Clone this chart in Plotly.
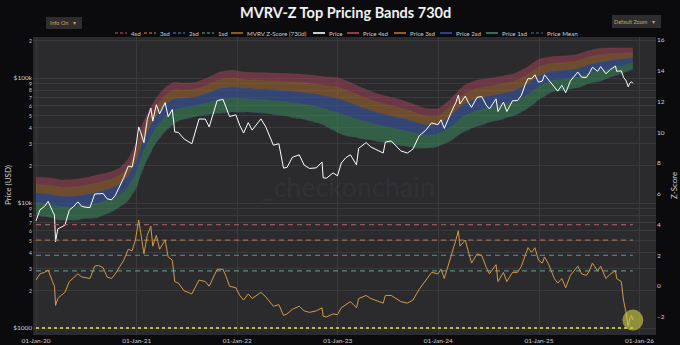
import plotly.graph_objects as go

# ---------------------------------------------------------------- data
price_dates = [
    "2020-01-01", "2020-01-15", "2020-02-01", "2020-02-14", "2020-03-01", "2020-03-08",
    "2020-03-12", "2020-03-20", "2020-04-01", "2020-04-15", "2020-05-01", "2020-05-15",
    "2020-06-01", "2020-06-15", "2020-07-01", "2020-07-15", "2020-08-01", "2020-08-15",
    "2020-09-01", "2020-09-15", "2020-10-01", "2020-10-15", "2020-11-01", "2020-11-15",
    "2020-12-01", "2020-12-15", "2020-12-27",
    "2021-01-08", "2021-01-15", "2021-01-27", "2021-02-08", "2021-02-21", "2021-02-28",
    "2021-03-13", "2021-03-25", "2021-04-14", "2021-04-25", "2021-05-10", "2021-05-19",
    "2021-06-01", "2021-06-22", "2021-07-20", "2021-08-15", "2021-09-07", "2021-09-21",
    "2021-10-20", "2021-11-10", "2021-11-20", "2021-12-04", "2021-12-27",
    "2022-01-10", "2022-01-24", "2022-02-10", "2022-02-24", "2022-03-28", "2022-04-15",
    "2022-05-12", "2022-06-01", "2022-06-18", "2022-07-01", "2022-07-20", "2022-08-14",
    "2022-09-01", "2022-09-20", "2022-10-15", "2022-11-05", "2022-11-09", "2022-11-21",
    "2022-12-15", "2022-12-31",
    "2023-01-14", "2023-01-31", "2023-02-16", "2023-03-10", "2023-03-18", "2023-04-14",
    "2023-05-01", "2023-06-15", "2023-06-23", "2023-07-14", "2023-08-18", "2023-09-11",
    "2023-10-01", "2023-10-24", "2023-11-15", "2023-12-08", "2023-12-31",
    "2024-01-11", "2024-01-23", "2024-02-15", "2024-03-05", "2024-03-14", "2024-03-20",
    "2024-04-08", "2024-04-19", "2024-05-01", "2024-05-21", "2024-06-07", "2024-06-24",
    "2024-07-05", "2024-07-29", "2024-08-05", "2024-08-25", "2024-09-06", "2024-09-27",
    "2024-10-15", "2024-10-29", "2024-11-12", "2024-11-22", "2024-12-05", "2024-12-17",
    "2024-12-30",
    "2025-01-13", "2025-01-21", "2025-02-03", "2025-02-26", "2025-03-10", "2025-03-25",
    "2025-04-08", "2025-04-25", "2025-05-12", "2025-05-22", "2025-06-05", "2025-06-22",
    "2025-07-03", "2025-07-14", "2025-08-02", "2025-08-13", "2025-09-01", "2025-09-18",
    "2025-10-06", "2025-10-10", "2025-10-27", "2025-11-04", "2025-11-14", "2025-11-21",
    "2025-11-27", "2025-12-03", "2025-12-08",
]

price_usd = [
    7200, 8800, 9400, 10300, 8600, 8000,
    4900, 6200, 6400, 6650, 8800, 9300,
    10200, 9400, 9230, 9200, 11800, 11900,
    11900, 10800, 10600, 11500, 13800, 16000,
    19700, 19400, 26500,
    40600, 36800, 30400, 46500, 57500, 45200,
    61200, 51700, 63500, 49000, 56000, 37000,
    36700, 32500, 29800, 47000, 46900, 40600,
    65900, 67500, 59700, 49200, 50700,
    41800, 36300, 44000, 38300, 47100, 40500,
    29000, 29800, 19000, 19300, 23200, 24300,
    20100, 18900, 19100, 21300, 15900, 15800,
    17400, 16500,
    20900, 23100, 24300, 20200, 27400, 30400,
    28100, 25100, 30700, 31400, 26100, 25100,
    27000, 34500, 37900, 43700, 42300,
    46300, 39500, 51900, 63700, 73100, 62000,
    71600, 63800, 58300, 70100, 71000, 60300,
    56600, 68100, 53900, 64100, 53900, 65800,
    66000, 72700, 88700, 99000, 98500, 106100,
    92600,
    94500, 106100, 97700, 84300, 78500, 87500,
    76300, 94700, 104000, 111600, 101500, 101000,
    109600, 121900, 113200, 123300, 108200, 117100,
    124700, 113200, 114100, 101500, 94500, 85100,
    91000, 93400, 90600,
]

mvrv_z = [
    0.4, 0.8, 0.9, 1.05, 0.3, 0.0,
    -1.25, -0.8, -0.6, -0.4, 0.3, 0.5,
    0.8, 0.6, 0.55, 0.5, 1.3, 1.35,
    1.2, 0.6, 0.5, 0.8, 1.3, 1.7,
    2.4, 2.3, 3.0,
    4.3, 3.5, 2.1, 3.3, 3.9, 2.6,
    3.3, 2.4, 3.0, 1.9, 1.7, 0.3,
    0.2, -0.3, -0.5, 0.4, 0.3, 0.0,
    1.1, 1.1, 0.7, 0.0, -0.1,
    -0.6, -0.9, -0.5, -0.8, -0.4, -0.7,
    -1.3, -1.2, -1.9, -1.8, -1.5, -1.3,
    -1.6, -1.7, -1.6, -1.4, -1.95, -2.0,
    -1.8, -1.85,
    -1.4, -1.2, -1.0, -1.4, -0.8, -0.6,
    -0.8, -1.1, -0.6, -0.6, -1.0, -1.1,
    -0.9, -0.2, 0.3, 0.9, 0.8,
    1.1, 0.5, 1.8, 3.0, 3.6, 2.6,
    3.0, 2.2, 1.5, 2.1, 2.0, 1.2,
    0.8, 1.4, 0.3, 0.9, 0.3, 0.9,
    0.9, 1.3, 2.0, 2.5, 2.2, 2.5,
    1.7,
    1.5, 1.9, 1.5, 0.5, 0.2, 0.5,
    -0.1, 0.7, 1.1, 1.3, 0.8, 0.7,
    1.0, 1.5, 1.0, 1.3, 0.5, 0.8,
    1.0, 0.5, 0.3, -0.9, -1.8, -2.6,
    -2.1, -1.9, -2.2,
]

band_dates = [
    "2020-01-01", "2020-02-15", "2020-04-01", "2020-05-15", "2020-07-01", "2020-08-15",
    "2020-10-01", "2020-11-01", "2020-12-01", "2021-01-01", "2021-01-20", "2021-02-15",
    "2021-03-15", "2021-04-15", "2021-05-15", "2021-06-15", "2021-08-01", "2021-09-15",
    "2021-11-01", "2021-12-15", "2022-02-01", "2022-04-01", "2022-06-01", "2022-08-01",
    "2022-10-01", "2022-11-15", "2023-01-01", "2023-02-15", "2023-04-01", "2023-05-15",
    "2023-07-01", "2023-08-15", "2023-10-01", "2023-11-15", "2024-01-01", "2024-02-15",
    "2024-04-01", "2024-05-15", "2024-07-01", "2024-08-15", "2024-10-01", "2024-11-15",
    "2025-01-01", "2025-02-15", "2025-04-01", "2025-05-15", "2025-07-01", "2025-08-15",
    "2025-10-01", "2025-11-15", "2025-12-08",
]

# price at which the 730d Z-score equals 0 (band floor)
price_mean_usd = [
    8000, 7700, 7300, 7300, 7500, 7700,
    8500, 9300, 10500, 13500, 18000, 24000,
    31000, 37500, 43000, 46500, 49000, 51000,
    52500, 53500, 53500, 52500, 50500, 48000,
    45000, 41500, 36500, 34000, 32700, 31500,
    30300, 29000, 27800, 27400, 28500, 31500,
    37000, 40500, 44000, 46500, 50000, 56000,
    67000, 77000, 80000, 83000, 90000, 95000,
    104000, 112000, 118000,
]

# price at which the 730d Z-score equals 4 (band ceiling)
price_4sd_usd = [
    16100, 15900, 15300, 15400, 15900, 16800,
    17800, 19100, 22500, 31000, 42000, 55000,
    70000, 84000, 92000, 91000, 92000, 100000,
    112000, 115000, 111000, 110000, 109000, 107600,
    105000, 102000, 100500, 92000, 83000, 76000,
    71000, 67000, 62000, 57000, 57000, 68000,
    86000, 95000, 99000, 103000, 108000, 120000,
    141000, 148000, 150000, 153000, 165000, 173000,
    174000, 174000, 174000,
]

sd_levels = [4, 3, 2, 1]
floor_usd = 1000
year_ticks = ["2020-01-01", "2021-01-01", "2022-01-01", "2023-01-01",
              "2024-01-01", "2025-01-01", "2026-01-01"]
price_decades = [1000, 10000, 100000]
decade_labels = ["$1000", "$10k", "$100k"]
minor_digits = [2, 3, 4, 5, 6, 7, 8, 9]
z_ticks = [-2, 0, 2, 4, 6, 8, 10, 12, 14, 16]

# ---------------------------------------------------------------- styling
W, H = 680, 345
PL, PR, PT, PB = 33, 656, 37, 335          # plot box in pixels

BG_PAPER = "#0b0b0d"
BG_PLOT = "#2b2b2d"
GRID = "#3a3a3c"
TXT = "#cfcfcf"
FONT = "Lato, 'Open Sans', sans-serif"

band_line = {4: "#b04a60", 3: "#b07030", 2: "#3252a2", 1: "#3d8a5c"}
band_fill = {4: "rgba(168,70,92,0.5)", 3: "rgba(176,112,48,0.5)",
             2: "rgba(56,88,168,0.58)", 1: "rgba(61,138,92,0.55)"}
sd_line = {4: "rgba(170,100,110,0.85)", 3: "rgba(165,125,90,0.85)",
           2: "rgba(95,130,165,0.85)", 1: "rgba(95,160,145,0.85)"}
sd_legend = {4: "#8e3e4a", 3: "#8e6236", 2: "#3f5f8c", 1: "#3f7f62"}
Z_COLOR = "#d29a48"
Z_LEGEND = "#b66a22"
MEAN_COLOR = "#3a4c6a"
FLOOR_COLOR = "#b9bd4c"
BTN_BG = "#2e2e30"
BTN_TXT = "#c9a35c"


def fx(px):
    return (px - PL) / (PR - PL)


def fy(py):
    return (PB - py) / (PB - PT)


fig = go.Figure()

# price bands: floor first, then each sd band filled down to the one below
fig.add_trace(go.Scatter(
    x=band_dates, y=price_mean_usd, mode="lines", name="Price Mean",
    line=dict(color=MEAN_COLOR, width=1, dash="dash", shape="spline", smoothing=0.6),
    showlegend=False, hoverinfo="skip"))
for k in [1, 2, 3, 4]:
    vals = [m + k * (t - m) / 4.0 for m, t in zip(price_mean_usd, price_4sd_usd)]
    fig.add_trace(go.Scatter(
        x=band_dates, y=vals, mode="lines", name=f"Price {k}sd",
        line=dict(color=band_fill[k], width=0.5, shape="spline", smoothing=0.6),
        fill="tonexty", fillcolor=band_fill[k], showlegend=False, hoverinfo="skip"))

# spot price
fig.add_trace(go.Scatter(
    x=price_dates, y=price_usd, mode="lines", name="Price",
    line=dict(color="#ffffff", width=1), showlegend=False))

# floor marker line along the bottom
fig.add_trace(go.Scatter(
    x=[price_dates[0], price_dates[-1]], y=[floor_usd, floor_usd], mode="lines",
    line=dict(color=FLOOR_COLOR, width=2, dash="dot"), showlegend=False, hoverinfo="skip"))

# Z-score sd reference levels
for k in sd_levels:
    fig.add_trace(go.Scatter(
        x=[price_dates[0], price_dates[-1]], y=[k, k], yaxis="y2", mode="lines",
        name=f"{k}sd", line=dict(color=sd_line[k], width=1.3, dash="5px,4px"),
        showlegend=False, hoverinfo="skip"))

# MVRV Z-score
fig.add_trace(go.Scatter(
    x=price_dates, y=mvrv_z, yaxis="y2", mode="lines", name="MVRV Z-Score (730d)",
    line=dict(color=Z_COLOR, width=1), showlegend=False))

# ---------------------------------------------------------------- axes
tickvals, ticktext = [], []
for dec, lab in zip(price_decades, decade_labels):
    tickvals.append(dec)
    ticktext.append(lab)
    if dec < 100000:
        for d in minor_digits:
            tickvals.append(dec * d)
            ticktext.append(f"<span style='font-size:5px'>{d}</span>")
tickvals.append(200000)
ticktext.append("<span style='font-size:5px'>2</span>")

fig.update_layout(
    width=W, height=H,
    margin=dict(l=PL, r=W - PR, t=PT, b=H - PB, autoexpand=False),
    paper_bgcolor=BG_PAPER, plot_bgcolor=BG_PLOT,
    font=dict(family=FONT, color=TXT, size=7),
    showlegend=False,
    xaxis=dict(type="date", range=["2019-12-21", "2026-03-02"], tickvals=year_ticks,
               tickformat="%d-%b-%y", showgrid=True, gridcolor=GRID, gridwidth=1,
               zeroline=False, showline=False, ticks="", automargin=False,
               tickfont=dict(size=6.5, color=TXT)),
    yaxis=dict(type="log", range=[2.944, 5.328], tickvals=tickvals, ticktext=ticktext,
               showgrid=True, gridcolor=GRID, gridwidth=1, zeroline=False, showline=False,
               ticks="", automargin=False, tickfont=dict(size=6.5, color=TXT)),
    yaxis2=dict(overlaying="y", side="right", range=[-3.17, 16.19], tickvals=z_ticks,
                showgrid=False, zeroline=False, showline=False, ticks="", automargin=False,
                tickfont=dict(size=6.5, color=TXT)),
)

# highlight on the latest Z-score reading
fig.add_shape(type="circle", xref="x", yref="y2", xsizemode="pixel", ysizemode="pixel",
              xanchor=price_dates[-1], yanchor=mvrv_z[-1], x0=-10.5, x1=10.5, y0=-10.5, y1=10.5,
              fillcolor="rgba(205,205,70,0.62)", line=dict(width=0), layer="above")

# ---------------------------------------------------------------- text
fig.add_annotation(text="_checkonchain", xref="paper", yref="paper", x=fx(348), y=fy(186),
                   showarrow=False, font=dict(family=FONT, size=27, color="rgba(255,255,255,0.055)"),
                   xanchor="center", yanchor="middle")

fig.add_annotation(text="<b>MVRV-Z Top Pricing Bands 730d</b>", xref="paper", yref="paper",
                   x=fx(345), y=fy(12), showarrow=False, xanchor="center", yanchor="middle",
                   font=dict(family=FONT, size=14.5, color="#f2f2f2"))

fig.add_annotation(text="Price (USD)", xref="paper", yref="paper", x=fx(8), y=fy(185),
                   textangle=-90, showarrow=False, xanchor="center", yanchor="middle",
                   font=dict(family=FONT, size=8, color=TXT))
fig.add_annotation(text="Z-Score", xref="paper", yref="paper", x=fx(674), y=fy(186),
                   textangle=-90, showarrow=False, xanchor="center", yanchor="middle",
                   font=dict(family=FONT, size=8, color=TXT))

# legend row
legend_items = [(f"{k}sd", sd_legend[k], True) for k in sd_levels]
legend_items += [("MVRV Z-Score (730d)", Z_LEGEND, False), ("Price", "#ffffff", False)]
legend_items += [(f"Price {k}sd", band_line[k], False) for k in sd_levels]
legend_items += [("Price Mean", MEAN_COLOR, True)]
legend_x = [115, 144, 173, 202, 231, 313, 347, 394, 440, 486, 531]
LEG_Y = 33
for (label, color, dashed), px in zip(legend_items, legend_x):
    fig.add_shape(type="line", xref="paper", yref="paper", x0=fx(px), x1=fx(px + 12),
                  y0=fy(LEG_Y), y1=fy(LEG_Y),
                  line=dict(color=color, width=1.6, dash="3px,2px" if dashed else "solid"))
    fig.add_annotation(text=label, xref="paper", yref="paper", x=fx(px + 14), y=fy(LEG_Y),
                       showarrow=False, xanchor="left", yanchor="middle",
                       font=dict(family=FONT, size=6.2, color=TXT))

# control buttons
for label, cx, cy, w, h in [("Info On", 64, 23, 36, 12), ("Default Zoom", 636.5, 21.5, 49, 13)]:
    fig.add_shape(type="rect", xref="paper", yref="paper",
                  x0=fx(cx - w / 2), x1=fx(cx + w / 2), y0=fy(cy + h / 2), y1=fy(cy - h / 2),
                  fillcolor=BTN_BG, line=dict(width=0), layer="above")
    fig.add_annotation(text=f"{label}&nbsp;&nbsp;&nbsp;▾", xref="paper", yref="paper",
                       x=fx(cx + w / 2 - 4), y=fy(cy), xanchor="right", yanchor="middle",
                       showarrow=False, font=dict(family=FONT, size=5.5, color=BTN_TXT))

fig.write_html("out.html")
